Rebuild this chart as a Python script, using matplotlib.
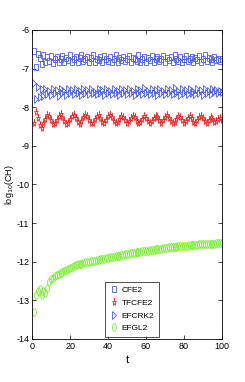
import matplotlib
matplotlib.use("Agg")
import matplotlib.pyplot as plt
from matplotlib.markers import MarkerStyle
from matplotlib.transforms import Affine2D
from matplotlib import font_manager

t = list(range(1, 101))

cfe2 = [-6.55, -6.95, -6.62, -6.72, -6.88, -6.66, -6.84, -6.70, -6.80, -6.68,
        -6.86, -6.74, -6.70, -6.82, -6.76, -6.68, -6.84, -6.72, -6.78, -6.66,
        -6.82, -6.74, -6.70, -6.84, -6.72, -6.66, -6.80, -6.76, -6.70, -6.84,
        -6.72, -6.66, -6.82, -6.74, -6.78, -6.70, -6.84, -6.68, -6.76, -6.80,
        -6.70, -6.82, -6.74, -6.66, -6.84, -6.72, -6.78, -6.70, -6.80, -6.74,
        -6.68, -6.84, -6.72, -6.76, -6.80, -6.66, -6.82, -6.74, -6.70, -6.84,
        -6.72, -6.78, -6.68, -6.82, -6.74, -6.70, -6.80, -6.76, -6.68, -6.84,
        -6.72, -6.78, -6.70, -6.82, -6.66, -6.76, -6.80, -6.70, -6.84, -6.74,
        -6.68, -6.80, -6.76, -6.70, -6.82, -6.72, -6.78, -6.68, -6.84, -6.74,
        -6.64, -6.80, -6.72, -6.76, -6.82, -6.70, -6.78, -6.74, -6.80, -6.76]

tfcfe2 = [-8.40, -8.12, -8.28, -8.45, -8.55, -8.42, -8.30, -8.20, -8.24, -8.34,
          -8.44, -8.42, -8.32, -8.22, -8.18, -8.26, -8.36, -8.44, -8.40, -8.30,
          -8.22, -8.20, -8.28, -8.38, -8.44, -8.36, -8.26, -8.20, -8.24, -8.34,
          -8.42, -8.40, -8.30, -8.22, -8.20, -8.28, -8.38, -8.42, -8.34, -8.24,
          -8.20, -8.26, -8.36, -8.42, -8.38, -8.30, -8.22, -8.26, -8.34, -8.40,
          -8.36, -8.28, -8.22, -8.26, -8.36, -8.42, -8.38, -8.30, -8.24, -8.28,
          -8.36, -8.42, -8.36, -8.28, -8.22, -8.26, -8.34, -8.40, -8.34, -8.26,
          -8.20, -8.28, -8.36, -8.42, -8.38, -8.30, -8.24, -8.26, -8.34, -8.40,
          -8.36, -8.28, -8.22, -8.28, -8.38, -8.42, -8.34, -8.26, -8.22, -8.28,
          -8.36, -8.40, -8.34, -8.26, -8.30, -8.38, -8.36, -8.30, -8.28, -8.34]

efcrk2 = [-7.38, -7.78, -7.48, -7.74, -7.54, -7.70, -7.52, -7.66, -7.58, -7.68,
          -7.54, -7.64, -7.56, -7.70, -7.52, -7.62, -7.58, -7.68, -7.54, -7.64,
          -7.56, -7.66, -7.52, -7.62, -7.58, -7.68, -7.54, -7.64, -7.56, -7.66,
          -7.52, -7.62, -7.60, -7.66, -7.54, -7.64, -7.56, -7.68, -7.52, -7.62,
          -7.58, -7.66, -7.54, -7.62, -7.58, -7.68, -7.52, -7.64, -7.56, -7.66,
          -7.52, -7.62, -7.58, -7.68, -7.54, -7.64, -7.56, -7.66, -7.50, -7.62,
          -7.58, -7.66, -7.54, -7.64, -7.56, -7.68, -7.52, -7.62, -7.58, -7.66,
          -7.54, -7.64, -7.56, -7.66, -7.50, -7.62, -7.58, -7.68, -7.54, -7.64,
          -7.56, -7.66, -7.52, -7.62, -7.58, -7.66, -7.54, -7.64, -7.56, -7.68,
          -7.52, -7.62, -7.58, -7.66, -7.54, -7.60, -7.56, -7.62, -7.58, -7.60]

efgl2 = [-13.30, -12.85, -12.75, -12.70, -12.85, -12.76, -12.80, -12.68, -12.52, -12.46,
         -12.42, -12.38, -12.35, -12.32, -12.29, -12.26, -12.23, -12.21, -12.18, -12.15,
         -12.13, -12.11, -12.09, -12.07, -12.06, -12.05, -12.03, -12.02, -12.01, -12.00,
         -11.99, -11.98, -11.97, -11.96, -11.95, -11.94, -11.93, -11.92, -11.91, -11.90,
         -11.89, -11.88, -11.87, -11.86, -11.85, -11.84, -11.83, -11.82, -11.81, -11.80,
         -11.79, -11.78, -11.77, -11.77, -11.76, -11.75, -11.74, -11.73, -11.73, -11.72,
         -11.71, -11.70, -11.70, -11.69, -11.68, -11.67, -11.67, -11.66, -11.65, -11.65,
         -11.64, -11.63, -11.63, -11.62, -11.61, -11.61, -11.60, -11.60, -11.59, -11.59,
         -11.58, -11.58, -11.57, -11.57, -11.56, -11.56, -11.56, -11.55, -11.55, -11.55,
         -11.54, -11.54, -11.54, -11.53, -11.53, -11.53, -11.52, -11.52, -11.52, -11.52]

labels = ["CFE2", "TFCFE2", "EFCRK2", "EFGL2"]
xticks = [0, 20, 40, 60, 80, 100]
yticks = [-14, -13, -12, -11, -10, -9, -8, -7, -6]

names = {f.name for f in font_manager.fontManager.ttflist}
fam = ["Liberation Sans Narrow", "DejaVu Sans"] if "Liberation Sans Narrow" in names else ["Liberation Sans", "DejaVu Sans"]
plt.rcParams["font.family"] = fam

fig = plt.figure(figsize=(2.45, 3.82), dpi=100)
ax = fig.add_axes([0.131, 0.1126, 0.775, 0.809])

sx = Affine2D().scale(0.5, 1.0)
mk_s = MarkerStyle("s", transform=sx)
mk_p = MarkerStyle("*", transform=sx)
mk_t = MarkerStyle(">", transform=sx)
mk_o = MarkerStyle("o", transform=sx)

blue = "#4a5cff"
red = "#ff2a2a"
green = "#77f033"
ax.plot(t, cfe2, linestyle="none", marker=mk_s, markersize=5, mfc="none", mec=blue, mew=0.6, label=labels[0])
ax.plot(t, tfcfe2, linestyle="none", marker=mk_p, markersize=5.5, mfc="none", mec=red, mew=0.6, label=labels[1])
ax.plot(t, efcrk2, linestyle="none", marker=mk_t, markersize=5.5, mfc="none", mec=blue, mew=0.6, label=labels[2])
ax.plot(t, efgl2, linestyle="none", marker=mk_o, markersize=5.5, mfc="none", mec=green, mew=0.6, label=labels[3])

ax.set_xlim(0, 100)
ax.set_ylim(-14, -6)
ax.set_xticks(xticks)
ax.set_yticks(yticks)
ax.set_xticklabels([str(v) for v in xticks])
ax.set_yticklabels([str(v) for v in yticks])
ax.tick_params(direction="in", length=3, width=0.5, labelsize=6.5, top=True, right=True, pad=2)
for s in ax.spines.values():
    s.set_linewidth(0.6)

ax.set_xlabel("t", fontsize=8, labelpad=3)
ax.set_ylabel(r"log$_{10}$(CH)", fontsize=6.5)
ax.yaxis.set_label_coords(-0.085, 0.5)

leg = ax.legend(loc="lower left", bbox_to_anchor=(0.385, 0.008), fontsize=6, frameon=True,
                fancybox=False, edgecolor="black", borderpad=0.5, handlelength=1.0,
                handletextpad=0.5, labelspacing=0.6, borderaxespad=0)
leg.get_frame().set_linewidth(0.6)

fig.savefig("out.png", dpi=100)
